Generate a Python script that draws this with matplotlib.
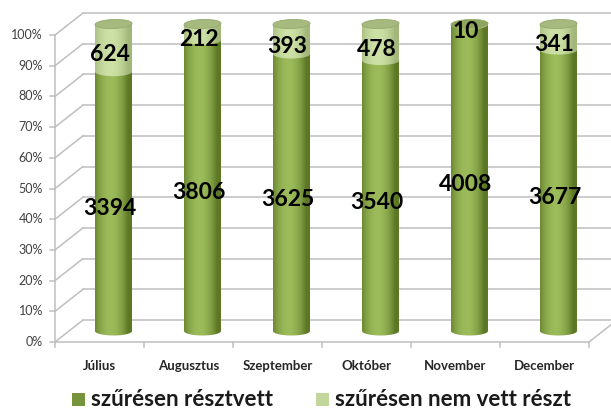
import numpy as np
import matplotlib
matplotlib.use('Agg')
import matplotlib.pyplot as plt
from matplotlib.patches import Ellipse, PathPatch, Rectangle
from matplotlib.path import Path
from matplotlib.colors import to_rgb

months = ['Július', 'Augusztus', 'Szeptember', 'Október', 'November', 'December']
attended = [3394, 3806, 3625, 3540, 4008, 3677]
not_attended = [624, 212, 393, 478, 10, 341]
yticks = list(range(0, 101, 10))
legend_labels = ['szűrésen résztvett', 'szűrésen nem vett részt']

plt.rcParams['font.family'] = ['Lato', 'DejaVu Sans']

W, H = 611, 412
fig = plt.figure(figsize=(W / 100, H / 100), dpi=100)
ax = fig.add_axes([0, 0, 1, 1])

# layout of the fake 3d frame, in pixels
x0, y0 = 55, 342        # front-left corner of the floor
ppp = 3.07              # pixels per percent
dx, dy = 28, -22        # depth offset front -> back wall
cat_w = 89
cyl_w, ry = 37, 4.5
grid_c = '#bfbfbf'

def fy(p):
    return y0 - ppp * p

# back wall gridlines + left wall diagonals + front axis ticks
for p in yticks:
    ax.plot([x0 + dx, W], [fy(p) + dy] * 2, color=grid_c, lw=1.1, zorder=1)
    ax.plot([x0, x0 + dx], [fy(p), fy(p) + dy], color=grid_c, lw=1.1, zorder=1)
    ax.plot([x0 - 5, x0], [fy(p)] * 2, color=grid_c, lw=1.1, zorder=1)
    ax.text(x0 - 12, fy(p), '%d%%' % p, ha='right', va='center',
            fontsize=9, color='#404040')
ax.plot([x0, x0], [fy(0), fy(100)], color=grid_c, lw=1.1, zorder=1)

# floor
n = len(months)
x_end = x0 + cat_w * n
ax.plot([x0, x_end], [y0, y0], color=grid_c, lw=1.1, zorder=1)
ax.plot([x_end, x_end + dx], [y0, y0 + dy], color=grid_c, lw=1.1, zorder=1)
for k in range(n + 1):
    ax.plot([x0 + cat_w * k] * 2, [y0, y0 + 5], color=grid_c, lw=1.1, zorder=1)
for i, m in enumerate(months):
    ax.text(x0 + cat_w * (i + 0.5), 366, m, ha='center', va='center',
            fontsize=9.5, fontweight='bold', color='#262626')

def gradient(edge, hi, npx=64):
    t = np.linspace(0, 1, npx)
    w = np.clip(np.cos((t - 0.42) * np.pi * 1.05), 0, 1) ** 0.8
    e, h = np.array(to_rgb(edge)), np.array(to_rgb(hi))
    return (e + (h - e) * w[:, None])[None, :, :]

def segment(cx, yb, yt, edge, hi, z):
    a = cyl_w / 2
    th = np.linspace(np.pi, 2 * np.pi, 40)
    # left side down, front half of the bottom ellipse, right side up
    bx = cx + a * np.cos(th)
    by = yb - ry * np.sin(th)
    verts = np.column_stack([np.r_[cx - a, bx, cx + a, cx - a],
                             np.r_[yt, by, yt, yt]])
    clip = PathPatch(Path(verts), transform=ax.transData, fc='none', ec='none')
    ax.add_patch(clip)
    im = ax.imshow(gradient(edge, hi), extent=[cx - a, cx + a, yb + ry + 1, yt],
                   aspect='auto', interpolation='bicubic', zorder=z)
    im.set_clip_path(clip)

dark = ('#5c7825', '#9cbb5a')
light = ('#a2b779', '#cde0a6')
for i in range(n):
    total = attended[i] + not_attended[i]
    p1 = 100.0 * attended[i] / total
    cx = x0 + cat_w * (i + 0.5) + dx / 2
    base = dy / 2
    yb, ym, yt = fy(0) + base, fy(p1) + base, fy(100) + base
    segment(cx, yb, ym, dark[0], dark[1], 3)
    segment(cx, ym, yt, light[0], light[1], 4)
    top_c = '#8da55d' if 100 - p1 < 1 else '#a6ba80'
    ax.add_patch(Ellipse((cx, yt), cyl_w, 2 * ry, angle=-2,
                         fc=top_c, ec='#94a96c', lw=0.6, zorder=5))
    # data labels
    ax.text(cx - 4, fy(p1 / 2) - 4, str(attended[i]), ha='center', va='center',
            fontsize=16.5, fontweight='bold', color='black', zorder=6)
    ax.text(cx - 4, fy((p1 + 100) / 2) - 4, str(not_attended[i]), ha='center',
            va='center', fontsize=16.5, fontweight='bold', color='black', zorder=6)

# legend
for lx, col, lab in [(72, '#77933c', legend_labels[0]),
                     (316, '#c3d69b', legend_labels[1])]:
    ax.add_patch(Rectangle((lx, 393), 13, 13, fc=col, ec='none'))
    ax.text(lx + 19, 400, lab, ha='left', va='center', fontsize=16,
            fontweight='bold', color='#1a1a1a')

ax.set_xlim(0, W)
ax.set_ylim(H, 0)
ax.axis('off')
fig.savefig('out.png', dpi=100)
